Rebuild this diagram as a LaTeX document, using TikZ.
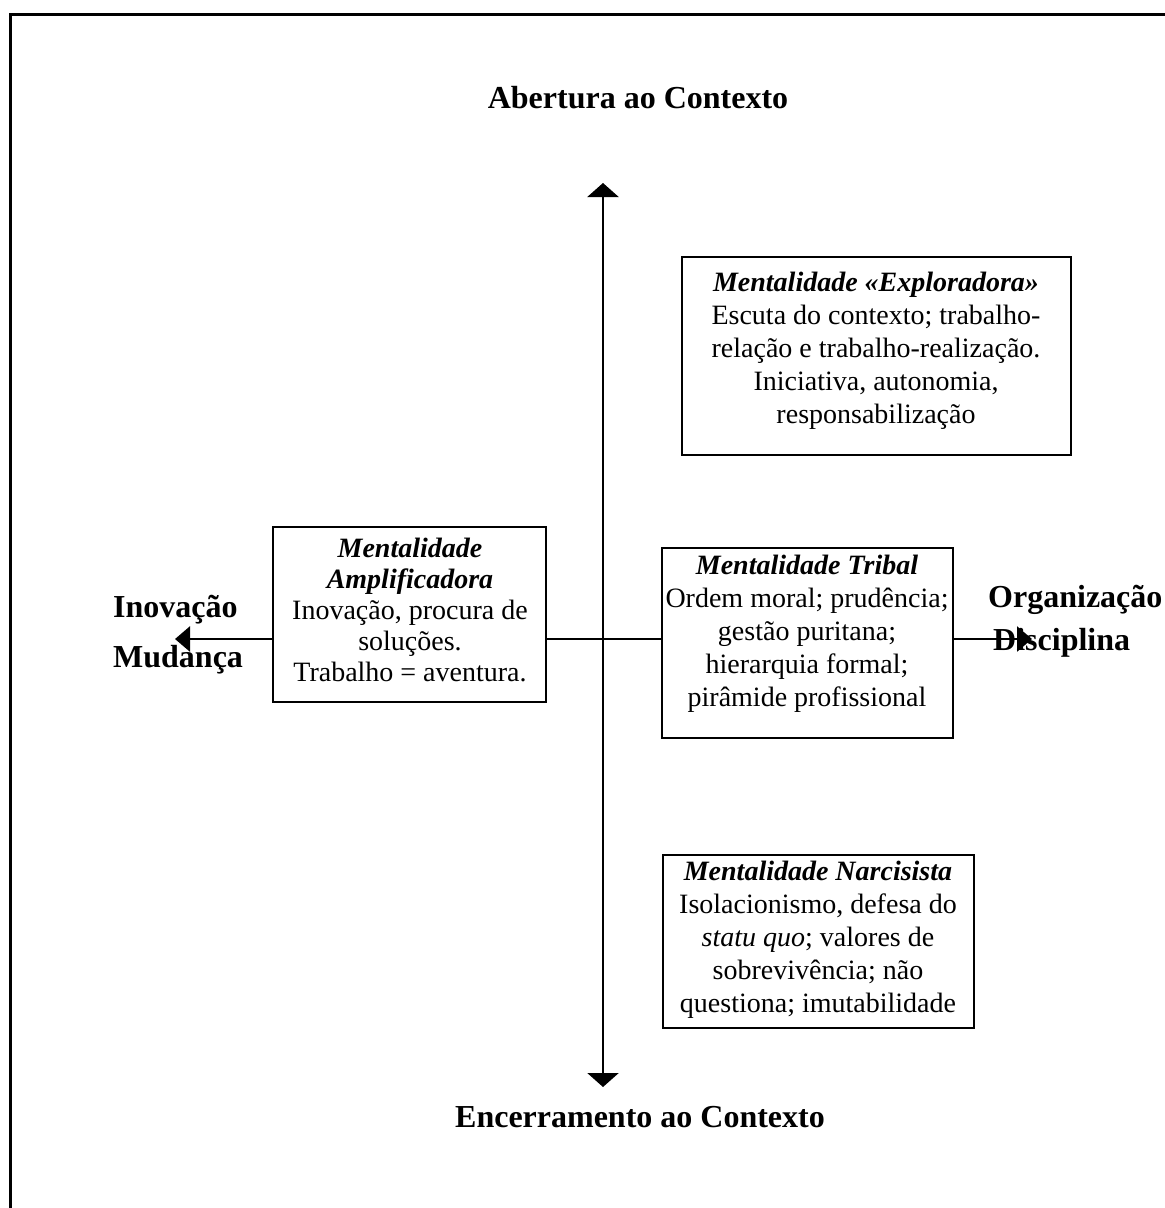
\documentclass[tikz,border=0pt]{standalone}
\usepackage{fontspec}
\setmainfont{Liberation Serif}
\usetikzlibrary{arrows.meta}
\begin{document}
\begin{tikzpicture}[x=1pt,y=-1pt,
  frameline/.style={line width=3pt},
  axisline/.style={line width=2.6pt},
  vhead/.style={-{Triangle[width=31pt,length=14pt]}},
  hhead/.style={-{Triangle[width=25pt,length=15pt]}},
  mbox/.style={draw,line width=2pt,inner sep=0pt},
  mtext/.style={align=center,inner sep=0pt,font=\fontsize{28}{33}\selectfont},
  pole/.style={inner sep=0pt,font=\bfseries\fontsize{32}{38}\selectfont},
]
\useasboundingbox (0,0) rectangle (1165,1208);

% outer frame (left and top edges)
\draw[frameline] (10,1208) -- (10,14) -- (1165,14);

% axis centre
\coordinate (hc) at (603,639);
\coordinate (vtop) at (603,183);
\coordinate (vbot) at (603,1087);
\coordinate (hleft) at (175,639);
\coordinate (hright) at (1032,639);

% quadrant boxes
\node[mbox,minimum width=389pt,minimum height=198pt] (explo) at (876.5,356) {};
\node[mbox,minimum width=273pt,minimum height=175pt] (ampl) at (409.5,614.5) {};
\node[mbox,minimum width=291pt,minimum height=190pt] (tribal) at (807.5,643) {};
\node[mbox,minimum width=311pt,minimum height=173pt] (narc) at (818.5,941.5) {};

% box texts
\node[mtext] (exploT) at (876,351) {\textbf{\textit{Mentalidade «Exploradora»}}\\
  Escuta do contexto; trabalho-\\relação e trabalho-realização.\\
  Iniciativa, autonomia,\\responsabilização};
\node[mtext,font=\fontsize{28}{31}\selectfont] (amplT) at (410,610) {\textbf{\textit{Mentalidade}}\\
  \textbf{\textit{Amplificadora}}\\Inovação, procura de\\soluções.\\Trabalho = aventura.};
\node[mtext] (tribalT) at (807,634) {\textbf{\textit{Mentalidade Tribal}}\\
  Ordem moral; prudência;\\gestão puritana;\\hierarquia formal;\\pirâmide profissional};
\node[mtext] (narcT) at (818,940) {\textbf{\textit{Mentalidade Narcisista}}\\
  Isolacionismo, defesa do\\\textit{statu quo}; valores de\\sobrevivência; não\\questiona; imutabilidade};

% vertical axis
\draw[axisline,vhead] (hc) -- (vtop);
\draw[axisline,vhead] (hc) -- (vbot);

% horizontal axis
\draw[axisline] (ampl.east |- hc) -- (tribal.west |- hc);
\draw[axisline,hhead] (ampl.west |- hc) -- (hleft);
\draw[axisline,hhead] (tribal.east |- hc) -- (hright);

% pole labels
\node[pole,anchor=base] (open) at (638,108) {Abertura ao Contexto};
\node[pole,anchor=base] (closed) at (640,1127) {Encerramento ao Contexto};
\node[pole,anchor=base west] (inov) at (113,617) {Inovação};
\node[pole,anchor=base west] (mud) at (113,667) {Mudança};
\node[pole,anchor=base west] (org) at (988,607) {Organização};
\node[pole,anchor=base west] (disc) at (993,650) {Disciplina};
\end{tikzpicture}
\end{document}
